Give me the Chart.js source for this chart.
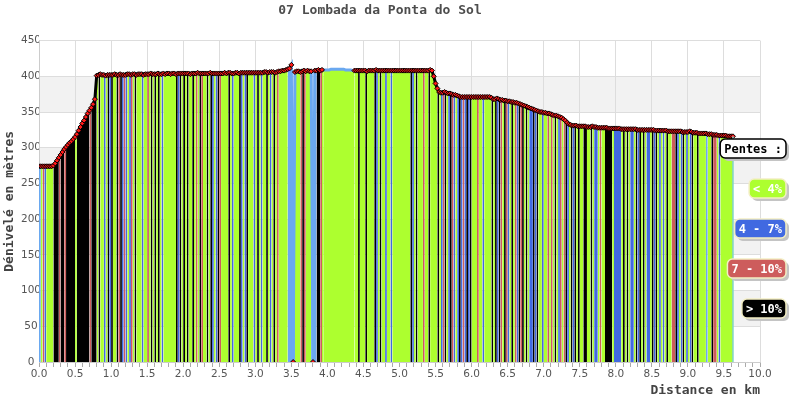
<!DOCTYPE html>
<html lang="fr">
<head>
<meta charset="utf-8">
<title>07 Lombada da Ponta do Sol</title>
<script src="https://cdn.jsdelivr.net/npm/chart.js@4"></script>
<style>
  html, body { margin: 0; padding: 0; background: #fff; }
</style>
</head>
<body>
<canvas id="profil" width="800" height="400"></canvas>
<script>
const titre = '07 Lombada da Ponta do Sol';
const pas = 0.025; // km entre deux points du profil

// altitude (m), un point tous les 25 m, une ligne par demi-km
const altitudes = [
  274,274,274,274,274,274,274,274,275,278,282,286,290,294,298,301,304,307,309,312,
  315,319,324,329,334,338,343,348,352,356,361,368,401,402,403,402,402,401,402,402,
  402,402,403,402,402,403,402,402,402,403,403,402,403,403,402,403,403,403,402,403,
  403,403,404,403,403,403,404,403,403,404,403,404,404,403,404,404,403,404,404,404,
  404,404,404,404,403,404,404,404,405,404,404,404,404,404,404,405,404,404,404,404,
  404,404,404,405,404,405,405,404,404,405,405,404,405,405,405,405,405,405,405,405,
  405,405,405,405,405,406,406,405,406,406,406,405,406,407,407,408,408,409,410,411,
  416,0,406,407,407,406,407,408,407,408,407,407,0,408,408,409,408,409,409,409,
  409,409,410,410,410,410,410,410,410,410,409,409,409,409,408,408,408,408,408,408,
  408,408,407,408,408,408,408,409,408,408,408,408,408,408,408,408,408,408,408,408,
  408,408,408,408,408,408,408,408,408,408,408,408,408,408,408,408,408,409,408,400,
  390,383,378,377,377,378,377,376,376,375,374,374,373,372,371,371,371,371,371,371,
  371,371,371,371,371,371,371,371,371,371,371,370,368,368,369,368,367,367,366,366,
  365,365,364,364,363,363,362,361,360,359,358,357,356,355,354,353,352,351,350,350,
  349,349,348,348,347,346,345,345,344,343,342,340,338,335,333,332,331,331,331,330,
  330,330,330,330,329,329,329,330,329,329,328,328,328,328,328,328,327,327,327,327,
  327,327,327,326,326,326,326,326,326,326,326,326,325,325,325,325,325,325,325,325,
  325,325,324,324,324,324,324,324,324,323,323,323,323,323,323,323,323,322,322,322,
  322,323,322,321,321,321,320,320,320,320,320,319,319,319,318,318,318,317,317,317,
  317,317,316,316,316,316
];

// classe de pente de chaque tronçon : g < 4%, b 4-7%, r 7-10%, k > 10%, l trace sans classe
const pentes = [
  'lgrbggggkkkrkkrkkkkk', 'gkkkkkkkrkkkgkggbgkb', 'kggkrkbrbgbrgkgggbgg', 'rgkgkgkgbgggggggkbkg',
  'kgkggkgrgkrggkgkbgbk', 'rggggkgbgggkbgbkgggb', 'gkgbggkgbgkgrgggggll', 'llgggrkrggglllkkrggg',
  'gggggggggggggggggkgg', 'gkggggkbgkggbggbgggg', 'ggggggkbgkgggrggkggg', 'gkgbrkgbkrbgbkbrbkbk',
  'gggrggbggggkgkbkrgkr', 'bgkgrbkrkgkgbbkbkggb', 'ggrgrgkgbrgrkbgkbkgk', 'ggkkggkgbbgrggkkkkgb',
  'bbbgkgkgbbgkbkgkgbbg', 'kbkgbgbgkggrrkbgbkgb', 'gbkggkgggglggkrrgbgg', 'ggggg'
].join('');

const classes = ['< 4%', '4 - 7%', '7 - 10%', '> 10%'];
const codes = ['g', 'b', 'r', 'k'];
const couleurs = { g: '#adff2f', b: '#4169e1', r: '#cd5c5c', k: '#000000', l: '#6aa8f0' };
const sansPoints = [3.93, 4.36]; // portion de trace sans points GPS

const points = altitudes.map((alt, i) => ({ x: +(i * pas).toFixed(3), y: alt }));

// bandes grises une sur deux
const bandes = {
  id: 'bandes',
  beforeDraw(chart) {
    const { ctx, chartArea: a, scales: { y } } = chart;
    ctx.save();
    ctx.fillStyle = '#f2f2f2';
    for (let v = 50; v < 450; v += 100) {
      const haut = y.getPixelForValue(v + 50), bas = y.getPixelForValue(v);
      ctx.fillRect(a.left, haut, a.right - a.left, bas - haut);
    }
    ctx.restore();
  }
};

// fin du trace : trait clair jusqu'au sol
const finTrace = {
  id: 'finTrace',
  afterDatasetsDraw(chart) {
    const { ctx, scales: { x, y } } = chart;
    const dernier = points[points.length - 1];
    const px = x.getPixelForValue(dernier.x);
    ctx.save();
    ctx.strokeStyle = '#7fd3c8';
    ctx.lineWidth = 1.5;
    ctx.beginPath();
    ctx.moveTo(px, y.getPixelForValue(dernier.y));
    ctx.lineTo(px, y.getPixelForValue(0));
    ctx.stroke();
    ctx.restore();
  }
};

// cartouches "Pentes" a droite
const legende = {
  id: 'legende',
  afterDraw(chart) {
    const ctx = chart.ctx;
    const entrees = [{ texte: 'Pentes :', fond: '#ffffff', bord: '#000000', encre: '#000000' }]
      .concat(classes.map((c, i) => ({ texte: c, fond: couleurs[codes[i]], bord: '#f3eec4', encre: '#ffffff' })));
    ctx.save();
    ctx.font = 'bold 12px "DejaVu Sans Mono"';
    ctx.textBaseline = 'middle';
    entrees.forEach((e, i) => {
      const w = ctx.measureText(e.texte).width + 8;
      const h = 19, x = 786 - w, y = 139 + i * 40;
      ctx.fillStyle = '#c4c4c4';
      ctx.beginPath(); ctx.roundRect(x + 3, y + 3, w, h, 5); ctx.fill();
      ctx.fillStyle = e.fond;
      ctx.beginPath(); ctx.roundRect(x, y, w, h, 5); ctx.fill();
      ctx.lineWidth = 1.5;
      ctx.strokeStyle = e.bord;
      ctx.stroke();
      ctx.fillStyle = e.encre;
      ctx.fillText(e.texte, x + 4, y + h / 2 + 1);
    });
    ctx.restore();
  }
};

const dansTrou = x => x > sansPoints[0] && x < sansPoints[1];

new Chart(document.getElementById('profil'), {
  type: 'line',
  data: {
    datasets: [{
      data: points,
      fill: 'origin',
      backgroundColor: couleurs.g,
      borderColor: '#000',
      borderWidth: 3,
      tension: 0,
      pointStyle: 'rectRot',
      pointRadius: c => (c.raw && dansTrou(c.raw.x) ? 0 : 2.5),
      pointBackgroundColor: '#ff1a1a',
      pointBorderColor: '#000',
      pointBorderWidth: 1,
      segment: {
        backgroundColor: c => couleurs[pentes[c.p0DataIndex]],
        borderColor: c => (pentes[c.p0DataIndex] === 'l' || dansTrou(c.p0.parsed.x)) ? couleurs.l : '#000'
      }
    }]
  },
  options: {
    responsive: false,
    animation: false,
    events: [],
    layout: { padding: { left: 0, right: 40, top: 0, bottom: 0 } },
    plugins: {
      legend: { display: false },
      tooltip: { enabled: false },
      title: {
        display: true,
        text: titre,
        color: '#4d4d4d',
        font: { family: 'DejaVu Sans Mono', size: 13, weight: 'bold' },
        padding: { top: 3, bottom: 22 }
      }
    },
    scales: {
      x: {
        type: 'linear',
        min: 0,
        max: 10,
        afterFit: s => { s.height = 38; },
        ticks: {
          stepSize: 0.1,
          autoSkip: false,
          maxRotation: 0,
          padding: 1,
          color: '#555',
          font: { family: 'DejaVu Sans', size: 10.5 },
          callback: v => (Math.round(v * 10) % 5 === 0 ? v.toFixed(1) : '')
        },
        grid: {
          color: c => (c.tick && Math.round(c.tick.value * 10) % 5 === 0 ? '#dddddd' : 'rgba(0,0,0,0)'),
          tickColor: '#aaaaaa',
          tickLength: 5
        },
        border: { color: '#cccccc' },
        title: {
          display: true,
          text: 'Distance en km',
          align: 'end',
          color: '#444',
          font: { family: 'DejaVu Sans Mono', size: 13, weight: 'bold' },
          padding: { top: 0, bottom: 2 }
        }
      },
      y: {
        min: 0,
        max: 450,
        afterFit: s => { s.width = 39; },
        ticks: {
          stepSize: 50,
          crossAlign: 'center',
          padding: -2,
          color: '#555',
          font: { family: 'DejaVu Sans', size: 10.5 }
        },
        grid: { color: '#dddddd', tickLength: 0 },
        border: { color: '#cccccc' },
        title: {
          display: true,
          text: 'Dénivelé en mètres',
          color: '#444',
          font: { family: 'DejaVu Sans Mono', size: 13, weight: 'bold' },
          padding: { top: 2, bottom: 2 }
        }
      }
    }
  },
  plugins: [bandes, finTrace, legende]
});
</script>
</body>
</html>
